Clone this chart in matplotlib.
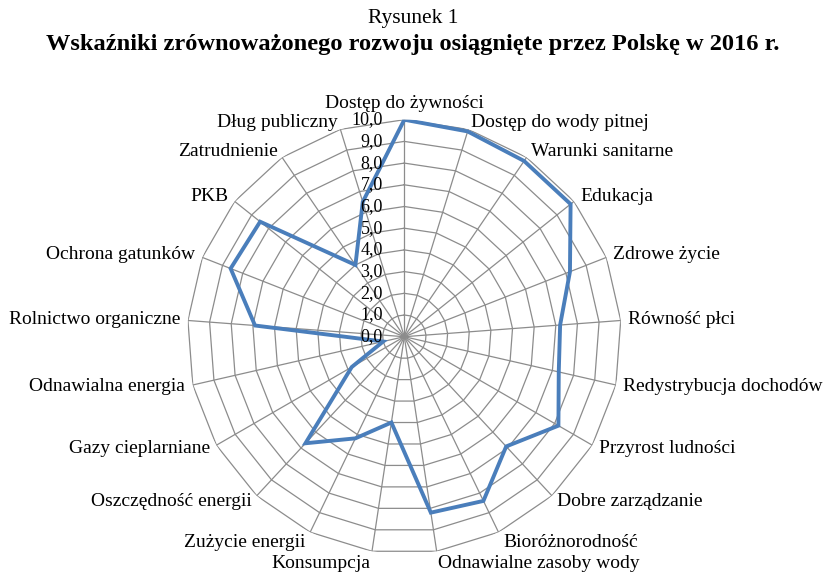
import numpy as np
import matplotlib
matplotlib.use("Agg")
import matplotlib.pyplot as plt

plt.rcParams['font.family'] = ['Liberation Serif', 'DejaVu Serif']

categories = ["Dostęp do żywności", "Dostęp do wody pitnej", "Warunki sanitarne",
              "Edukacja", "Zdrowe życie", "Równość płci", "Redystrybucja dochodów",
              "Przyrost ludności", "Dobre zarządzanie", "Bioróżnorodność",
              "Odnawialne zasoby wody", "Konsumpcja", "Zużycie energii",
              "Oszczędność energii", "Gazy cieplarniane", "Odnawialna energia",
              "Rolnictwo organiczne", "Ochrona gatunków", "PKB", "Zatrudnienie",
              "Dług publiczny"]
values = [10.0, 9.9, 9.8, 9.8, 8.2, 7.2, 7.3, 8.2, 6.9, 8.4, 8.2,
          4.0, 5.2, 6.7, 2.8, 1.0, 6.9, 8.6, 8.5, 4.0, 6.5]
ticks = list(range(0, 11))
tick_labels = ["%d,0" % t for t in ticks]

n = len(categories)
theta = np.arange(n) * 2 * np.pi / n
theta_c = np.append(theta, theta[0])

fig = plt.figure(figsize=(8.26, 5.73), dpi=100)
ax = fig.add_axes([0.2268, 0.0337, 0.5254, 0.7574], projection='polar')
ax.set_theta_zero_location('N')
ax.set_theta_direction(-1)
ax.set_ylim(0, 10)
ax.grid(False)
ax.spines['polar'].set_visible(False)
ax.set_xticks([])
ax.set_yticks([])
ax.patch.set_visible(False)

grid_col = '#8c8c8c'
# polygon rings
for t in ticks[1:]:
    ax.plot(theta_c, [t] * (n + 1), color=grid_col, lw=0.9, zorder=1)
# spokes
for th in theta:
    ax.plot([th, th], [0, 10], color=grid_col, lw=0.9, zorder=1)

# data
ax.plot(theta_c, values + values[:1], color='#4a7ebb', lw=2.8, zorder=3,
        solid_joinstyle='miter')

# radial tick labels left of the top spoke
for t, lab in zip(ticks, tick_labels):
    ax.annotate(lab, xy=(0, t), xytext=(-15.5, 0), textcoords='offset points',
                ha='right', va='center', fontsize=13, zorder=4)

# category labels
for th, lab in zip(theta, categories):
    s, c = np.sin(th), np.cos(th)
    if s > 0.05:
        ha = 'left'
    elif s < -0.05:
        ha = 'right'
    else:
        ha = 'center'
    va = 'bottom' if c > 0.99 else 'center'
    r = 10.55 if c < -0.85 else 10.35
    ax.text(th, r, lab, ha=ha, va=va, fontsize=14)

fig.text(0.5, 0.968, "Rysunek 1", ha='center', va='center', fontsize=15.5)
fig.text(0.5, 0.922, "Wskaźniki zrównoważonego rozwoju osiągnięte przez Polskę w 2016 r.",
         ha='center', va='center', fontsize=17.6, fontweight='bold')

fig.savefig("out.png", dpi=100)
